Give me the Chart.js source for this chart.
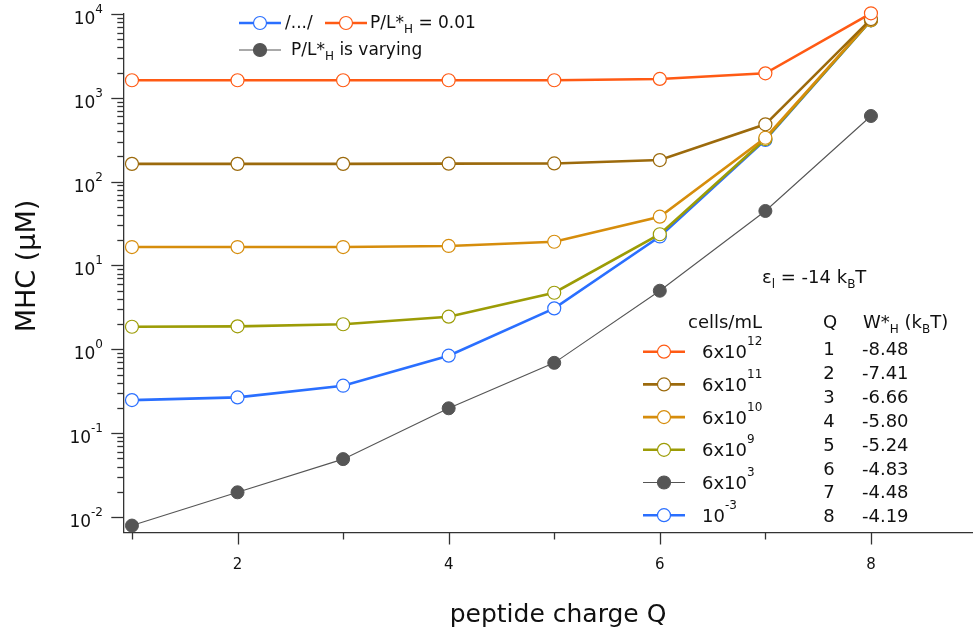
<!DOCTYPE html>
<html>
<head>
<meta charset="utf-8">
<script src="https://cdn.jsdelivr.net/npm/chart.js@4.4.0/dist/chart.umd.min.js"></script>
<style>
    html, body { margin: 0; padding: 0; background: #fff; }
    #wrap { width: 980px; height: 633px; position: relative; }
</style>
</head>
<body>
<div id="wrap"><canvas id="mhcChart" width="980" height="633"></canvas></div>
<script>
const FONT = '"DejaVu Sans", sans-serif';

// peptide charge Q
const charges = [1, 2, 3, 4, 5, 6, 7, 8];

// MHC (uM) per cell density
const mhc6e12 = [1620, 1620, 1620, 1620, 1620, 1680, 1960, 10200];
const mhc6e11 = [163, 163, 163, 164, 165, 181, 483, 8700];
const mhc6e10 = [16.6, 16.6, 16.6, 17.1, 19.2, 38.2, 334, 8500];
const mhc6e9 = [1.86, 1.88, 1.99, 2.45, 4.73, 23.6, 322, 8400];
const mhc6e3 = [0.0079, 0.0197, 0.049, 0.198, 0.69, 5.0, 44.7, 607];
const mhc1em3 = [0.248, 0.267, 0.368, 0.84, 3.08, 22.2, 315, 8400];

const ORANGE = "#ff5a14", BROWN = "#9c6a0c", GOLD = "#d68d0c", OLIVE = "#9c9c06", BLUE = "#2a6fff", GRAY = "#555555";

// legend: cells/mL (in legend order)
const densityBases = ["6x10", "6x10", "6x10", "6x10", "6x10", "10"];
const densityExponents = ["12", "11", "10", "9", "3", "-3"];
const densityColors = [ORANGE, BROWN, GOLD, OLIVE, GRAY, BLUE];
const densityFilled = [false, false, false, false, true, false];

// table Q / W*H
const tableQ = ["1", "2", "3", "4", "5", "6", "7", "8"];
const tableW = ["-8.48", "-7.41", "-6.66", "-5.80", "-5.24", "-4.83", "-4.48", "-4.19"];

// axes
const yDecades = [-2, -1, 0, 1, 2, 3, 4];
const xMajorTicks = [2, 4, 6, 8];
const xMinorTicks = [1, 3, 5, 7];

function toPoints(values) {
    return charges.map((q, i) => ({ x: q, y: values[i] }));
}

function openSeries(label, values, color) {
    return {
        label,
        data: toPoints(values),
        borderColor: color,
        borderWidth: 2.6,
        pointRadius: 6.5,
        pointHoverRadius: 6.5,
        pointBorderWidth: 1.2,
        pointBorderColor: color,
        pointBackgroundColor: "#ffffff",
        clip: false
    };
}

function drawRich(ctx, x, y, parts, align) {
    const widths = parts.map(p => {
        ctx.font = `${p[1]}px ${FONT}`;
        return ctx.measureText(p[0]).width;
    });
    const total = widths.reduce((a, b) => a + b, 0);
    let cx = align === "right" ? x - total : align === "center" ? x - total / 2 : x;
    ctx.textAlign = "left";
    ctx.textBaseline = "alphabetic";
    parts.forEach((p, i) => {
        ctx.font = `${p[1]}px ${FONT}`;
        ctx.fillText(p[0], cx, y + (p[2] || 0));
        cx += widths[i];
    });
}

function legendMarker(ctx, x, y, color, filled, lineWidth) {
    ctx.save();
    ctx.strokeStyle = color;
    ctx.lineWidth = lineWidth;
    ctx.beginPath();
    ctx.moveTo(x - 21, y);
    ctx.lineTo(x + 21, y);
    ctx.stroke();
    ctx.beginPath();
    ctx.arc(x, y, 6.5, 0, Math.PI * 2);
    ctx.fillStyle = filled ? color : "#ffffff";
    ctx.fill();
    ctx.lineWidth = 1.2;
    ctx.stroke();
    ctx.restore();
}

const decorPlugin = {
    id: "decor",
    afterDraw(chart) {
        const ctx = chart.ctx;
        const xs = chart.scales.x;
        const ys = chart.scales.y;
        const area = chart.chartArea;
        ctx.save();
        ctx.strokeStyle = "#333";
        ctx.fillStyle = "#111";
        ctx.lineWidth = 1.3;

        // y ticks (major + minor) and labels
        yDecades.forEach(d => {
            for (let m = 1; m <= 9; m++) {
                const v = m * Math.pow(10, d);
                const py = ys.getPixelForValue(v);
                if (py < area.top - 1 || py > area.bottom + 1) continue;
                const len = m === 1 ? 12 : 6;
                ctx.beginPath();
                ctx.moveTo(area.left - len, Math.round(py) + 0.5);
                ctx.lineTo(area.left, Math.round(py) + 0.5);
                ctx.stroke();
            }
            const py = ys.getPixelForValue(Math.pow(10, d));
            drawRich(ctx, 103, py + 10, [["10", 17], [String(d), 12, -11]], "right");
        });

        // x ticks and labels
        xMajorTicks.concat(xMinorTicks).forEach(q => {
            const px = Math.round(xs.getPixelForValue(q)) + 0.5;
            const len = xMajorTicks.includes(q) ? 12 : 7;
            ctx.beginPath();
            ctx.moveTo(px, area.bottom);
            ctx.lineTo(px, area.bottom + len);
            ctx.stroke();
        });
        ctx.font = `15px ${FONT}`;
        ctx.textAlign = "center";
        ctx.textBaseline = "alphabetic";
        xMajorTicks.forEach(q => ctx.fillText(String(q), xs.getPixelForValue(q), 569));

        // axis titles
        ctx.font = `25px ${FONT}`;
        ctx.fillText("peptide charge Q", 558, 622);
        ctx.save();
        ctx.translate(35, 266);
        ctx.rotate(-Math.PI / 2);
        ctx.font = `27px ${FONT}`;
        ctx.fillText("MHC (\u03bcM)", 0, 0);
        ctx.restore();

        // top legend
        legendMarker(ctx, 260, 23, BLUE, false, 2.6);
        drawRich(ctx, 285, 28, [["/.../", 17]], "left");
        legendMarker(ctx, 346, 23, ORANGE, false, 2.6);
        drawRich(ctx, 370, 28, [["P/L*", 17], ["H", 12, 5], [" = 0.01", 17]], "left");
        legendMarker(ctx, 260, 50, GRAY, true, 1);
        drawRich(ctx, 291, 55, [["P/L*", 17], ["H", 12, 5], [" is varying", 17]], "left");

        // epsilon note
        drawRich(ctx, 762, 283, [["\u03b5", 18], ["l", 12, 5], [" = -14 k", 18], ["B", 12, 5], ["T", 18]], "left");

        // cells/mL legend
        drawRich(ctx, 725, 328, [["cells/mL", 18]], "center");
        densityBases.forEach((base, i) => {
            const cy = 351.7 + 32.7 * i;
            legendMarker(ctx, 664, cy, densityColors[i], densityFilled[i], densityFilled[i] ? 1 : 2.6);
            drawRich(ctx, 702, cy + 6.5, [[base, 18], [densityExponents[i], 12, -13]], "left");
        });

        // Q / W*H table
        drawRich(ctx, 830, 328, [["Q", 18]], "center");
        drawRich(ctx, 863, 328, [["W*", 18], ["H", 12, 5], [" (k", 18], ["B", 12, 5], ["T)", 18]], "left");
        tableQ.forEach((q, i) => {
            const by = 355 + 23.9 * i;
            drawRich(ctx, 829, by, [[q, 18]], "center");
            drawRich(ctx, 862, by, [[tableW[i], 18]], "left");
        });

        ctx.restore();
    }
};

new Chart(document.getElementById("mhcChart"), {
    type: "line",
    data: {
        datasets: [
            openSeries("6x10^12", mhc6e12, ORANGE),
            openSeries("6x10^11", mhc6e11, BROWN),
            openSeries("6x10^10", mhc6e10, GOLD),
            openSeries("6x10^9", mhc6e9, OLIVE),
            openSeries("10^-3", mhc1em3, BLUE),
            {
                label: "6x10^3",
                data: toPoints(mhc6e3),
                borderColor: GRAY,
                borderWidth: 1.1,
                pointRadius: 6.5,
                pointHoverRadius: 6.5,
                pointBorderWidth: 1,
                pointBorderColor: GRAY,
                pointBackgroundColor: GRAY,
                clip: false
            }
        ]
    },
    options: {
        responsive: false,
        animation: false,
        layout: { padding: { top: 14, left: 0, right: 0, bottom: 0 } },
        plugins: { legend: { display: false }, tooltip: { enabled: false } },
        scales: {
            x: {
                type: "linear",
                min: 0.918,
                max: 8.96,
                grid: { display: false },
                ticks: { display: false },
                border: { display: true, color: "#333", width: 1.3 },
                afterFit(scale) { scale.height = 100.5; }
            },
            y: {
                type: "logarithmic",
                min: 0.00653,
                max: 10000,
                grid: { display: false },
                ticks: { display: false },
                border: { display: true, color: "#333", width: 1.3 },
                afterFit(scale) { scale.width = 123.3; }
            }
        }
    },
    plugins: [decorPlugin]
});
</script>
</body>
</html>
